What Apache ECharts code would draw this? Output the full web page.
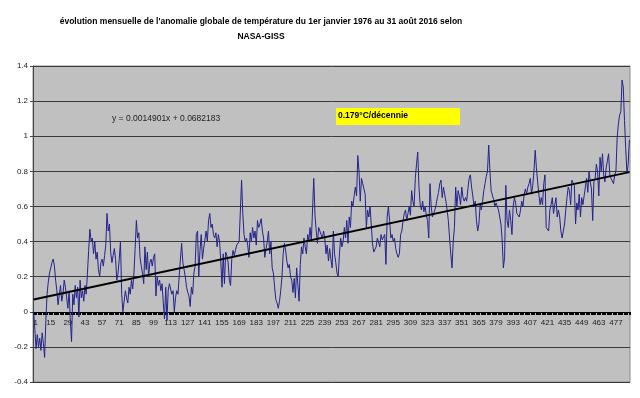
<!DOCTYPE html>
<html>
<head>
<meta charset="utf-8">
<script src="https://cdn.jsdelivr.net/npm/echarts@6/dist/echarts.min.js"></script>
<style>
  html, body { margin: 0; padding: 0; background: #fff; }
  #chart { width: 640px; height: 398px; }
</style>
</head>
<body>
<div id="chart"></div>
<script>
// monthly anomalies (°C), one array per year
const anom1976 = [0.00, -0.10, -0.21, -0.13, -0.20, -0.15, -0.22, -0.12, -0.18, -0.26, -0.05, 0.10]
const anom1977 = [0.17, 0.22, 0.25, 0.28, 0.30, 0.26, 0.18, 0.12, 0.04, 0.10, 0.15, 0.06]
const anom1978 = [0.10, 0.18, 0.14, 0.08, 0.02, 0.12, -0.05, -0.17, 0.10, 0.04, 0.15, 0.08]
const anom1979 = [0.14, -0.03, 0.18, 0.08, 0.12, 0.06, 0.15, 0.10, 0.22, 0.35, 0.47, 0.40]
const anom1980 = [0.42, 0.33, 0.40, 0.30, 0.34, 0.24, 0.20, 0.28, 0.30, 0.26, 0.32, 0.38]
const anom1981 = [0.56, 0.46, 0.50, 0.34, 0.28, 0.32, 0.36, 0.30, 0.18, 0.22, 0.30, 0.40]
const anom1982 = [0.10, 0.00, 0.06, 0.12, 0.08, 0.05, 0.14, 0.10, 0.18, 0.13, 0.22, 0.36]
const anom1983 = [0.52, 0.42, 0.45, 0.31, 0.26, 0.22, 0.16, 0.37, 0.24, 0.34, 0.20, 0.28]
const anom1984 = [0.30, 0.26, 0.31, 0.33, 0.09, 0.20, 0.15, 0.18, 0.12, 0.16, 0.05, -0.04]
const anom1985 = [0.14, -0.05, 0.12, 0.16, 0.17, 0.10, 0.12, 0.00, 0.08, 0.12, 0.10, 0.20]
const anom1986 = [0.30, 0.39, 0.28, 0.24, 0.20, 0.14, 0.11, 0.09, 0.03, 0.14, 0.10, 0.22]
const anom1987 = [0.26, 0.44, 0.46, 0.20, 0.35, 0.44, 0.30, 0.36, 0.37, 0.46, 0.40, 0.52]
const anom1988 = [0.56, 0.48, 0.50, 0.44, 0.42, 0.45, 0.37, 0.44, 0.40, 0.29, 0.14, 0.33]
const anom1989 = [0.16, 0.34, 0.32, 0.28, 0.18, 0.15, 0.30, 0.35, 0.32, 0.35, 0.38, 0.39]
const anom1990 = [0.40, 0.40, 0.75, 0.56, 0.44, 0.40, 0.42, 0.38, 0.31, 0.45, 0.40, 0.48]
const anom1991 = [0.42, 0.46, 0.38, 0.52, 0.48, 0.50, 0.53, 0.46, 0.42, 0.31, 0.36, 0.40]
const anom1992 = [0.46, 0.33, 0.40, 0.25, 0.22, 0.14, 0.07, 0.05, 0.02, 0.06, 0.12, 0.20]
const anom1993 = [0.33, 0.39, 0.35, 0.29, 0.25, 0.27, 0.20, 0.18, 0.11, 0.19, 0.08, 0.25]
const anom1994 = [0.24, 0.06, 0.27, 0.37, 0.33, 0.42, 0.37, 0.33, 0.44, 0.41, 0.48, 0.40]
const anom1995 = [0.58, 0.76, 0.55, 0.46, 0.39, 0.48, 0.46, 0.44, 0.42, 0.46, 0.42, 0.33]
const anom1996 = [0.38, 0.29, 0.36, 0.30, 0.25, 0.46, 0.33, 0.28, 0.22, 0.20, 0.33, 0.42]
const anom1997 = [0.37, 0.40, 0.48, 0.42, 0.52, 0.39, 0.54, 0.48, 0.63, 0.60, 0.66, 0.71]
const anom1998 = [0.66, 0.89, 0.80, 0.63, 0.76, 0.73, 0.70, 0.67, 0.48, 0.58, 0.54, 0.60]
const anom1999 = [0.60, 0.39, 0.34, 0.33, 0.37, 0.42, 0.41, 0.37, 0.44, 0.41, 0.40, 0.44]
const anom2000 = [0.27, 0.54, 0.60, 0.52, 0.42, 0.44, 0.40, 0.42, 0.36, 0.33, 0.31, 0.33]
const anom2001 = [0.44, 0.46, 0.52, 0.56, 0.58, 0.52, 0.56, 0.60, 0.55, 0.69, 0.63, 0.60]
const anom2002 = [0.76, 0.84, 0.91, 0.71, 0.61, 0.58, 0.63, 0.57, 0.60, 0.55, 0.52, 0.42]
const anom2003 = [0.73, 0.60, 0.54, 0.56, 0.58, 0.61, 0.65, 0.68, 0.73, 0.75, 0.65, 0.71]
const anom2004 = [0.71, 0.63, 0.58, 0.52, 0.42, 0.33, 0.25, 0.40, 0.48, 0.71, 0.60, 0.69]
const anom2005 = [0.66, 0.61, 0.71, 0.65, 0.63, 0.65, 0.63, 0.70, 0.76, 0.78, 0.71, 0.66]
const anom2006 = [0.60, 0.63, 0.52, 0.46, 0.50, 0.61, 0.58, 0.63, 0.69, 0.73, 0.77, 0.80]
const anom2007 = [0.95, 0.80, 0.69, 0.68, 0.64, 0.60, 0.62, 0.60, 0.58, 0.54, 0.50, 0.41]
const anom2008 = [0.25, 0.31, 0.72, 0.52, 0.48, 0.58, 0.52, 0.44, 0.60, 0.65, 0.62, 0.56]
const anom2009 = [0.56, 0.54, 0.58, 0.63, 0.60, 0.67, 0.70, 0.67, 0.71, 0.73, 0.76, 0.67]
const anom2010 = [0.72, 0.80, 0.92, 0.82, 0.74, 0.67, 0.61, 0.65, 0.61, 0.73, 0.78, 0.48]
const anom2011 = [0.48, 0.46, 0.58, 0.61, 0.65, 0.56, 0.61, 0.65, 0.54, 0.58, 0.54, 0.46]
const anom2012 = [0.42, 0.46, 0.50, 0.58, 0.65, 0.71, 0.69, 0.61, 0.75, 0.76, 0.72, 0.50]
const anom2013 = [0.62, 0.58, 0.67, 0.54, 0.65, 0.61, 0.60, 0.71, 0.76, 0.68, 0.80, 0.74]
const anom2014 = [0.70, 0.52, 0.74, 0.76, 0.84, 0.80, 0.66, 0.88, 0.80, 0.90, 0.78, 0.74]
const anom2015 = [0.82, 0.86, 0.90, 0.78, 0.76, 0.75, 0.73, 0.78, 0.80, 0.99, 1.07, 1.12]
const anom2016 = [1.14, 1.32, 1.28, 1.09, 0.93, 0.79, 0.84, 0.98]

// linear trend, value at first and last month
const trendEnds = [0.0697, 0.7954]
const trendLabel = 'y = 0.0014901x + 0.0682183'
const rateLabel = '0.179°C/décennie'
const labelEvery = 14

const anomalies = [].concat(
  anom1976, anom1977, anom1978, anom1979, anom1980, anom1981, anom1982,
  anom1983, anom1984, anom1985, anom1986, anom1987, anom1988, anom1989,
  anom1990, anom1991, anom1992, anom1993, anom1994, anom1995, anom1996,
  anom1997, anom1998, anom1999, anom2000, anom2001, anom2002, anom2003,
  anom2004, anom2005, anom2006, anom2007, anom2008, anom2009, anom2010,
  anom2011, anom2012, anom2013, anom2014, anom2015, anom2016
)
const months = anomalies.map((_, i) => String(i + 1))
const last = months.length - 1

const font = 'Arial, "Liberation Sans", sans-serif'
const chart = echarts.init(document.getElementById('chart'))

chart.setOption({
  animation: false,
  title: {
    text: "évolution mensuelle de l'anomalie globale de température du 1er janvier 1976 au 31 août 2016 selon\nNASA-GISS",
    left: 256,
    top: 9,
    textAlign: 'center',
    textStyle: { fontFamily: font, fontSize: 8.5, fontWeight: 'bold', color: '#000', lineHeight: 15 }
  },
  grid: {
    left: 33, right: 10, top: 66, bottom: 16,
    show: true, backgroundColor: '#c0c0c0', borderColor: '#8c8c8c', borderWidth: 1
  },
  xAxis: {
    type: 'category',
    data: months,
    boundaryGap: true,
    z: 3,
    // axis sits on the zero line, 70 px above the plot bottom
    offset: -70,
    axisLine: { onZero: false, lineStyle: { color: '#000', width: 1 } },
    axisTick: { show: true, interval: 0, length: 3, lineStyle: { color: '#000' } },
    axisLabel: {
      interval: (idx) => idx % labelEvery === 0,
      margin: 7, showMinLabel: true, hideOverlap: false, alignMinLabel: 'left',
      fontFamily: font, fontSize: 8, color: '#222'
    },
    splitLine: { show: false }
  },
  yAxis: {
    type: 'value',
    min: -0.4, max: 1.4, interval: 0.2,
    axisLine: { show: true, lineStyle: { color: '#444' } },
    axisTick: { show: true, length: 3, lineStyle: { color: '#444' } },
    axisLabel: { margin: 5, fontFamily: font, fontSize: 8, color: '#222' },
    splitLine: { lineStyle: { color: '#3a3a3a', width: 1 } }
  },
  series: [
    {
      type: 'line',
      data: anomalies,
      showSymbol: false,
      lineStyle: { color: '#23238c', width: 1 }
    },
    {
      type: 'line',
      data: [[0, trendEnds[0]], [last, trendEnds[1]]],
      showSymbol: false,
      lineStyle: { color: '#000', width: 2 },
      z: 3
    }
  ],
  graphic: [
    {
      type: 'text', left: 112, top: 114,
      style: { text: trendLabel, font: '8.5px ' + font, fill: '#222' }
    },
    {
      type: 'rect', left: 336, top: 108,
      shape: { width: 124, height: 17 },
      style: { fill: '#ffff00' }
    },
    {
      type: 'text', left: 338, top: 111,
      style: { text: rateLabel, font: 'bold 8.5px ' + font, fill: '#000' }
    }
  ]
})
</script>
</body>
</html>
